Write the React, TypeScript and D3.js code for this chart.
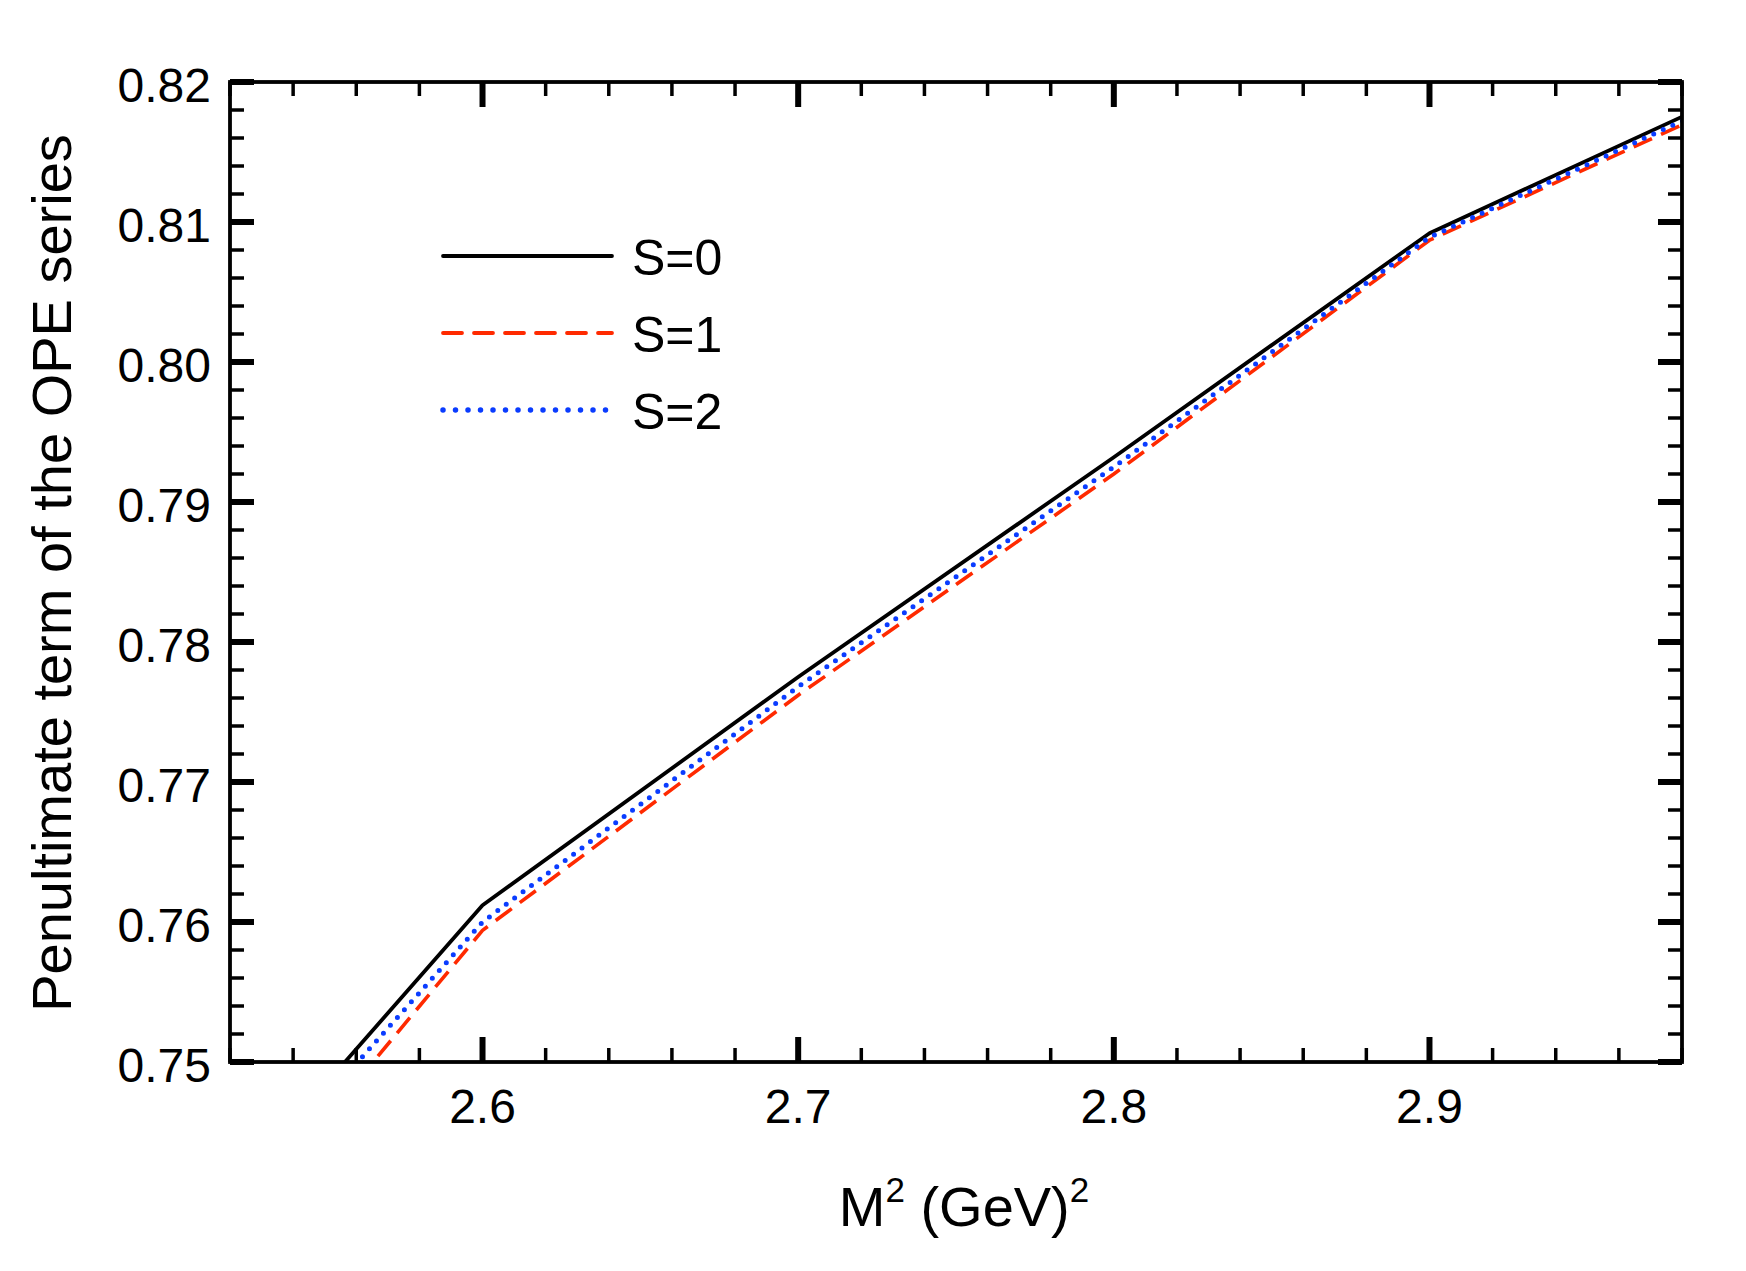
import React, { useRef, useEffect } from 'react';
import * as d3 from 'd3';

// M^2 values (GeV^2) where the curves were sampled
const massSq = [2.5, 2.6, 2.7, 2.8, 2.9, 3.0];
// penultimate OPE term for each S
const seriesS0 = [0.7355, 0.7612, 0.7775, 0.7932, 0.8092, 0.8196];
const seriesS1 = [0.7323, 0.7594, 0.7762, 0.792, 0.8087, 0.819];
const seriesS2 = [0.7347, 0.76, 0.7768, 0.7925, 0.8089, 0.8193];

const legendLabels = ['S=0', 'S=1', 'S=2'];
const xTickLabels = ['2.6', '2.7', '2.8', '2.9'];
const yTickLabels = ['0.75', '0.76', '0.77', '0.78', '0.79', '0.80', '0.81', '0.82'];

const W = 1746;
const H = 1271;
const FONT = '"Liberation Sans", Arial, Helvetica, sans-serif';

const App: React.FC = () => {
  const svgRef = useRef<SVGSVGElement | null>(null);

  useEffect(() => {
    if (!svgRef.current) return;
    document.body.style.margin = '0';
    const svg = d3.select(svgRef.current);
    svg.selectAll('*').remove();

    const margin = { left: 230, right: W - 1682, top: 82, bottom: H - 1062 };
    const x = d3.scaleLinear().domain([2.52, 2.98]).range([margin.left, W - margin.right]);
    const y = d3.scaleLinear().domain([0.75, 0.82]).range([H - margin.bottom, margin.top]);

    const [x0, x1] = x.range();
    const [y0, y1] = y.range();

    // clip for data lines
    svg.append('defs').append('clipPath').attr('id', 'plotclip')
      .append('rect')
      .attr('x', x0).attr('y', y1)
      .attr('width', x1 - x0).attr('height', y0 - y1);

    const series = [
      { values: seriesS0, color: '#000000', dash: null as string | null, width: 3.8, cap: 'butt' },
      { values: seriesS1, color: '#ff2a00', dash: '20 10', width: 3.6, cap: 'butt' },
      { values: seriesS2, color: '#0a3cff', dash: '0 10.5', width: 5, cap: 'round' },
    ];

    const line = d3.line<[number, number]>()
      .x(d => x(d[0]))
      .y(d => y(d[1]));

    const lines = svg.append('g').attr('clip-path', 'url(#plotclip)');
    series.forEach(s => {
      lines.append('path')
        .datum(massSq.map((m, i) => [m, s.values[i]] as [number, number]))
        .attr('d', line)
        .attr('fill', 'none')
        .attr('stroke', s.color)
        .attr('stroke-width', s.width)
        .attr('stroke-linecap', s.cap)
        .attr('stroke-linejoin', 'round')
        .attr('stroke-dasharray', s.dash);
    });

    // ticks (inward, all four sides)
    const ticks = svg.append('g').attr('stroke', '#000');
    const xMinor = d3.range(2.52, 2.98 + 1e-9, 0.02);
    xMinor.forEach(v => {
      const isMajor = Math.abs(v * 10 - Math.round(v * 10)) < 1e-6;
      const len = isMajor ? 25 : 14;
      const sw = isMajor ? 6 : 3.5;
      const px = x(v);
      ticks.append('line').attr('x1', px).attr('x2', px).attr('y1', y0).attr('y2', y0 - len).attr('stroke-width', sw);
      ticks.append('line').attr('x1', px).attr('x2', px).attr('y1', y1).attr('y2', y1 + len).attr('stroke-width', sw);
    });
    const yMinor = d3.range(0.75, 0.82 + 1e-9, 0.002);
    yMinor.forEach(v => {
      const isMajor = Math.abs(v * 100 - Math.round(v * 100)) < 1e-6;
      const len = isMajor ? 24 : 14;
      const sw = isMajor ? 6 : 3.5;
      const py = y(v);
      ticks.append('line').attr('x1', x0).attr('x2', x0 + len).attr('y1', py).attr('y2', py).attr('stroke-width', sw);
      ticks.append('line').attr('x1', x1).attr('x2', x1 - len).attr('y1', py).attr('y2', py).attr('stroke-width', sw);
    });

    // frame
    svg.append('rect')
      .attr('x', x0).attr('y', y1)
      .attr('width', x1 - x0).attr('height', y0 - y1)
      .attr('fill', 'none').attr('stroke', '#000').attr('stroke-width', 3.8);

    // tick labels
    svg.append('g').selectAll('text')
      .data(xTickLabels)
      .enter().append('text')
      .attr('x', d => x(+d))
      .attr('y', 1123)
      .attr('text-anchor', 'middle')
      .attr('font-family', FONT)
      .attr('font-size', 48)
      .text(d => d);

    svg.append('g').selectAll('text')
      .data(yTickLabels)
      .enter().append('text')
      .attr('x', 211)
      .attr('y', d => y(+d) + 20)
      .attr('text-anchor', 'end')
      .attr('font-family', FONT)
      .attr('font-size', 48)
      .text(d => d);

    // axis titles
    const xt = svg.append('text')
      .attr('x', 964)
      .attr('y', 1226)
      .attr('text-anchor', 'middle')
      .attr('font-family', FONT)
      .attr('font-size', 56);
    xt.append('tspan').text('M');
    xt.append('tspan').attr('font-size', 35).attr('dy', -24).text('2');
    xt.append('tspan').attr('dy', 24).text(' (GeV)');
    xt.append('tspan').attr('font-size', 35).attr('dy', -24).text('2');

    svg.append('text')
      .attr('transform', `translate(71, 573) rotate(-90)`)
      .attr('text-anchor', 'middle')
      .attr('font-family', FONT)
      .attr('font-size', 56)
      .text('Penultimate term of the OPE series');

    // legend
    const legendY = [256, 333, 410];
    const legend = svg.append('g');
    series.forEach((s, i) => {
      legend.append('line')
        .attr('x1', 443).attr('x2', 612)
        .attr('y1', legendY[i]).attr('y2', legendY[i])
        .attr('stroke', s.color)
        .attr('stroke-width', i === 2 ? 5.5 : 3.8)
        .attr('stroke-linecap', 'round')
        .attr('stroke-dasharray', i === 0 ? null : i === 1 ? '19 12' : '0 12.5');
      legend.append('text')
        .attr('x', 632)
        .attr('y', legendY[i] + 19)
        .attr('font-family', FONT)
        .attr('font-size', 50)
        .text(legendLabels[i]);
    });
  }, []);

  return <svg ref={svgRef} width={W} height={H} style={{ display: 'block', background: '#fff' }} />;
};

export default App;
